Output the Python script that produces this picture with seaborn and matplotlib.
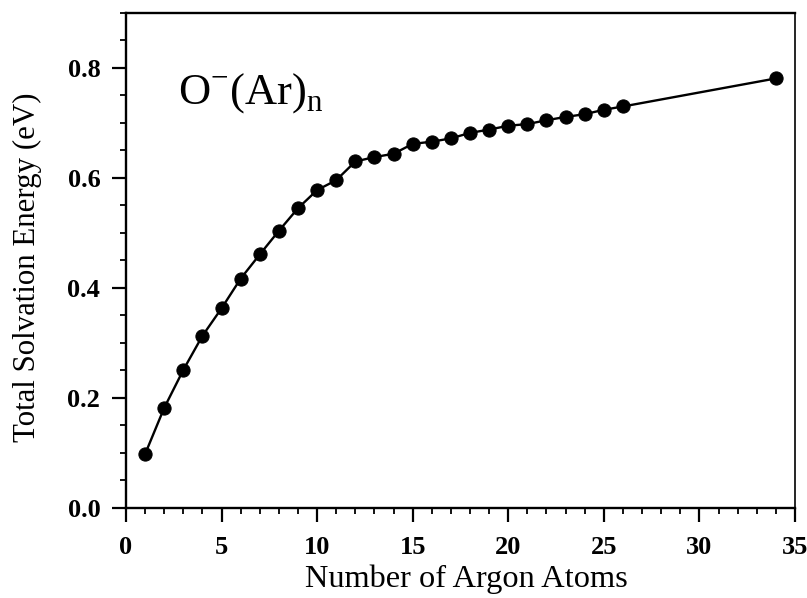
import matplotlib
matplotlib.use("Agg")
import matplotlib.pyplot as plt
from matplotlib.ticker import MultipleLocator
import seaborn as sns
import pandas as pd

n_atoms = [1, 2, 3, 4, 5, 6, 7, 8, 9, 10, 11, 12, 13, 14, 15, 16, 17, 18,
           19, 20, 21, 22, 23, 24, 25, 26, 34]
energy = [0.098, 0.182, 0.251, 0.313, 0.363, 0.417, 0.461, 0.504, 0.545,
          0.578, 0.596, 0.630, 0.638, 0.644, 0.662, 0.666, 0.672, 0.682,
          0.688, 0.695, 0.698, 0.705, 0.711, 0.716, 0.724, 0.730, 0.781]
xticks = [0, 5, 10, 15, 20, 25, 30, 35]
yticks = [0.0, 0.2, 0.4, 0.6, 0.8]

df = pd.DataFrame({"n": n_atoms, "E": energy})

sns.set_style("ticks")
plt.rcParams["font.family"] = ["Liberation Serif", "DejaVu Serif"]
plt.rcParams["mathtext.fontset"] = "custom"
plt.rcParams["mathtext.rm"] = "Liberation Serif"

fig = plt.figure(figsize=(8.07, 5.98), dpi=100)
ax = fig.add_axes([0.1561, 0.1505, 0.8290, 0.8278])

sns.lineplot(data=df, x="n", y="E", ax=ax, color="black", linewidth=1.7,
             marker="o", markersize=9.5, markeredgecolor="black",
             markerfacecolor="black")

ax.set_xlim(0, 35)
ax.set_ylim(0, 0.9)
ax.set_xticks(xticks)
ax.set_yticks(yticks)
ax.set_xticklabels([str(t) for t in xticks], fontweight="bold")
ax.set_yticklabels([f"{t:.1f}" for t in yticks], fontweight="bold")
ax.xaxis.set_minor_locator(MultipleLocator(1))
ax.yaxis.set_minor_locator(MultipleLocator(0.05))
ax.tick_params(axis="both", which="major", direction="out", length=10,
               width=1.6, labelsize=19, colors="black")
ax.tick_params(axis="y", which="major", pad=8.5)
ax.tick_params(axis="x", which="major", pad=10.5)
ax.tick_params(axis="both", which="minor", direction="out", length=4.5,
               width=1.3, colors="black")

for s in ["left", "bottom", "top", "right"]:
    ax.spines[s].set_visible(True)
    ax.spines[s].set_color("black")
    ax.spines[s].set_linewidth(1.7)
ax.spines["right"].set_linewidth(1.2)

ax.set_xlabel("Number of Argon Atoms", fontsize=23.3, color="black")
ax.set_ylabel("Total Solvation Energy (eV)", fontsize=22.2, color="black")
ax.xaxis.set_label_coords(0.509, -0.115)
ax.yaxis.set_label_coords(-0.1256, 0.487)

ax.text(2.72, 0.736, r"O$^{\mathregular{-}}$(Ar)$_{\mathregular{n}}$",
        fontsize=32, color="black", ha="left", va="baseline")

fig.savefig("out.png", dpi=100)
